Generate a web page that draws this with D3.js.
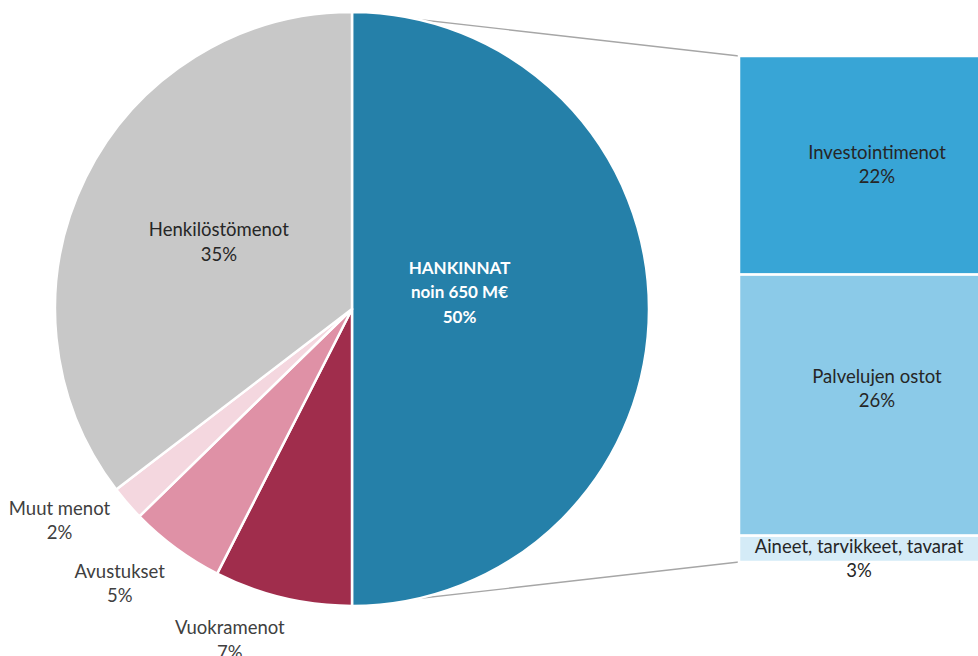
<!DOCTYPE html>
<html>
<head>
<meta charset="utf-8">
<script src="https://cdn.jsdelivr.net/npm/d3@7"></script>
<style>
  body { margin: 0; background: #fff; }
  svg { display: block; font-family: Lato, "Open Sans", sans-serif; }
</style>
</head>
<body>
<div id="chart"></div>
<script>
// pie slices, clockwise from the top
var pieNames = ["HANKINNAT", "Vuokramenot", "Avustukset", "Muut menot", "Henkilöstömenot"];
var pieValues = [50, 7.5, 5.2, 1.9, 35.4];
var pieTexts = [["HANKINNAT", "noin 650 M€", "50%"], ["Vuokramenot", "7%"], ["Avustukset", "5%"], ["Muut menot", "2%"], ["Henkilöstömenot", "35%"]];
var pieColors = ["#2580A9", "#A02D4C", "#DF91A6", "#F4D7DF", "#C8C8C8"];

// the bar that splits HANKINNAT, top to bottom
var barNames = ["Investointimenot", "Palvelujen ostot", "Aineet, tarvikkeet, tavarat"];
var barValues = [21.6, 25.8, 2.6];
var barTexts = [["Investointimenot", "22%"], ["Palvelujen ostot", "26%"], ["Aineet, tarvikkeet, tavarat", "3%"]];
var barColors = ["#38A5D6", "#8BCAE8", "#D4EBF7"];

var width = 978;
var height = 656;
var cx = 352, cy = 309, r = 297;

var svg = d3.select("#chart")
    .append("svg")
    .attr("width", width)
    .attr("height", height);

// bar scale, the bar covers the same total as the HANKINNAT slice
var barTotal = d3.sum(barValues);
var y = d3.scaleLinear().domain([0, barTotal]).range([56, 562]);
var barX = 739, barW = 276;

// connector lines (behind the pie)
var topPt = [cx + r * Math.sin(0), cy - r * Math.cos(0)];
var botPt = [cx + r * Math.sin(Math.PI), cy - r * Math.cos(Math.PI)];
svg.append("g")
    .selectAll("line")
    .data([[topPt, [barX, y(0)]], [botPt, [barX, y(barTotal)]]])
    .enter()
        .append("line")
        .attr("x1", function(d){ return d[0][0]; })
        .attr("y1", function(d){ return d[0][1]; })
        .attr("x2", function(d){ return d[1][0]; })
        .attr("y2", function(d){ return d[1][1]; })
        .attr("stroke", "#A6A6A6")
        .attr("stroke-width", 1.3);

// the pie
var pie = d3.pie().sort(null).value(function(d){ return d; });
var arcs = pie(pieValues);
var arc = d3.arc().innerRadius(0).outerRadius(r);

var pieG = svg.append("g").attr("transform", "translate(" + cx + "," + cy + ")");
pieG.selectAll("path")
    .data(arcs)
    .enter()
        .append("path")
        .attr("d", arc)
        .attr("fill", function(d,i){ return pieColors[i]; })
        .attr("stroke", "#fff")
        .attr("stroke-width", 2.5)
        .attr("stroke-linejoin", "round");

// label placement: inside for the big slices, outside for the small ones
var labelArcIn = d3.arc().innerRadius(0).outerRadius(r);
var labelArcOut = d3.arc().innerRadius(r * 1.2).outerRadius(r * 1.2);
var nudge = [[-41, -16], [-39, -14], [-21, -11], [-23, -20], [0, 0]];
var lineH = 24.5;

pieG.selectAll("text.pl")
    .data(arcs)
    .enter()
        .append("text")
        .attr("class", "pl")
        .attr("text-anchor", "middle")
        .attr("font-size", function(d,i){ return i === 0 ? 17 : 18.5; })
        .attr("font-weight", function(d,i){ return i === 0 ? "bold" : "normal"; })
        .attr("fill", function(d,i){
            if (i === 0) return "#fff";
            return i === 4 ? "#262626" : "#404040";
        })
        .each(function(d,i){
            var outside = (i >= 1 && i <= 3);
            var c = outside ? labelArcOut.centroid(d) : labelArcIn.centroid(d);
            var lines = pieTexts[i];
            var x0 = c[0] + nudge[i][0];
            var y0 = c[1] + nudge[i][1] - (lines.length - 1) * lineH / 2 + 5;
            d3.select(this).selectAll("tspan")
                .data(lines)
                .enter()
                    .append("tspan")
                    .attr("x", x0)
                    .attr("y", function(t,j){ return y0 + j * lineH; })
                    .text(function(t){ return t; });
        });

// the split bar
var stacked = [];
var acc = 0;
barValues.forEach(function(v){ stacked.push([acc, acc + v]); acc += v; });

svg.append("g")
    .selectAll("rect")
    .data(stacked)
    .enter()
        .append("rect")
        .attr("x", barX)
        .attr("y", function(d){ return y(d[0]); })
        .attr("width", barW)
        .attr("height", function(d){ return y(d[1]) - y(d[0]); })
        .attr("fill", function(d,i){ return barColors[i]; })
        .attr("stroke", "#fff")
        .attr("stroke-width", 2.5);

var barLabelShift = [-6.5, -22.5, 4];
svg.append("g")
    .selectAll("text")
    .data(stacked)
    .enter()
        .append("text")
        .attr("text-anchor", "middle")
        .attr("font-size", 18.5)
        .attr("fill", "#262626")
        .each(function(d,i){
            var mid = (y(d[0]) + y(d[1])) / 2;
            var x0 = i === 2 ? 859 : barX + barW / 2;
            var y0 = mid + barLabelShift[i];
            d3.select(this).selectAll("tspan")
                .data(barTexts[i])
                .enter()
                    .append("tspan")
                    .attr("x", x0)
                    .attr("y", function(t,j){ return y0 + j * lineH; })
                    .text(function(t){ return t; });
        });
</script>
</body>
</html>
